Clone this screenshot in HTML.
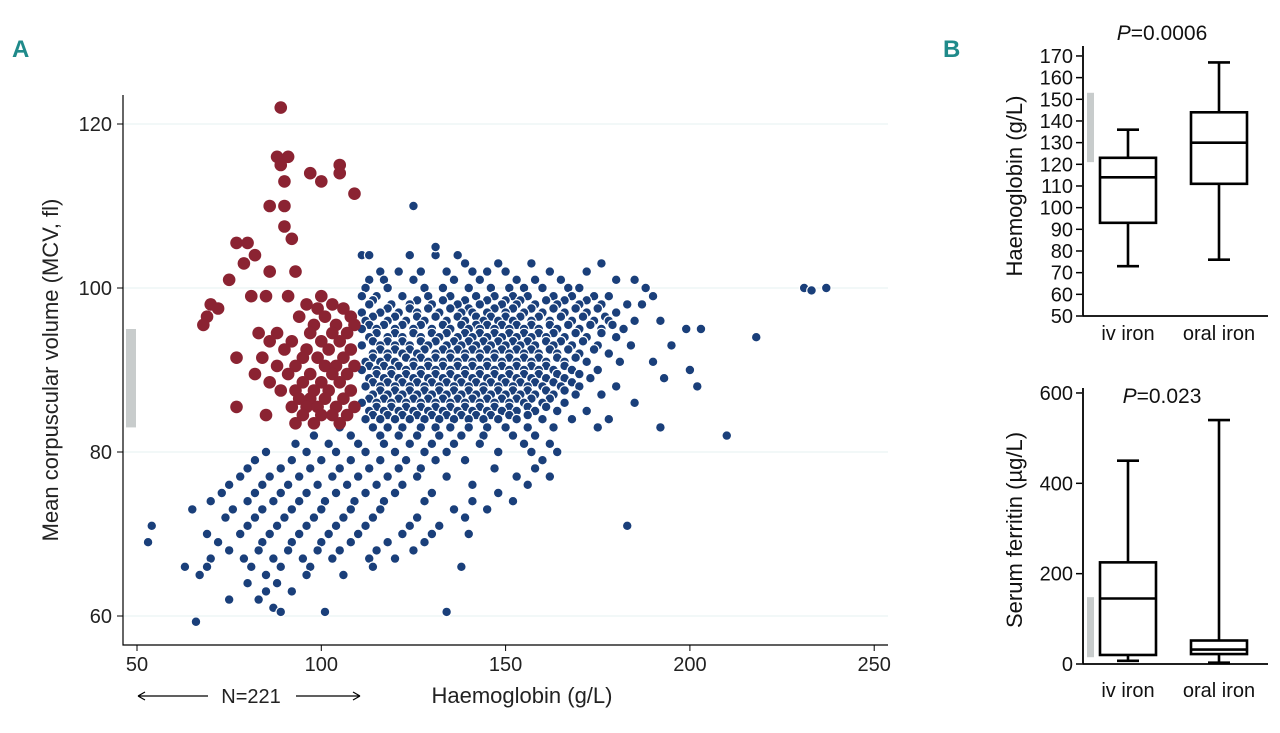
<!DOCTYPE html>
<html><head><meta charset="utf-8"><style>
body{margin:0;background:#fff;}
svg{display:block;font-family:"Liberation Sans",sans-serif;}
</style></head><body>
<svg id="chart" width="1280" height="733" viewBox="0 0 1280 733" xmlns="http://www.w3.org/2000/svg">
<g id="gA"></g>
<g id="gB"></g>
</svg>
<script>
const xTicksA=[50,100,150,200,250];
const yTicksA=[60,80,100,120];
const blueRows=[
[104,[111,113,124,131,137]],[103,[139,148,157,176]],
[102,[116,121,127,134,141,145,150,162,172]],
[101,[113,117,125,136,143,153,158,165,180,185]],
[100,[112,118,128,133,140,146,151,155,160,167,170,188,231,237]],
[99.7,[233]],[110,[125]],[105,[131]],
[99,[111,115,122,129,135,142,147,152,156,163,168,174,178,190]],
[98.5,[114,126,133,139,145,150,154,161,166,172]],
[98,[113,119,124,130,137,143,149,153,158,164,170,176,183,187]],
[97.5,[118,124,129,135,140,147,152,157,163,169,175]],
[97,[111,116,121,126,132,138,141,145,150,155,160,166,172,180]],
[96.5,[114,120,126,131,137,142,146,150,154,159,165,171,177]],
[96,[112,118,123,128,134,139,144,148,152,157,162,168,174,178,185,192]],
[95.5,[113,117,122,127,133,138,142,145,149,153,157,162,167,173,179]],
[95,[111,115,120,125,130,135,140,143,147,151,155,159,164,170,176,182,199,203]],
[94.5,[115,120,125,130,134,139,143,147,151,155,159,163,169,176]],
[94,[113,118,122,127,132,137,141,145,149,153,157,161,166,172,180,218]],
[93.5,[114,118,122,127,131,136,140,144,148,152,156,161,165,171]],
[93,[111,116,120,124,129,134,138,142,146,150,154,158,163,168,175,184,195]],
[92.5,[116,120,124,128,133,137,141,145,149,153,157,162,167,174]],
[92,[114,118,122,126,131,135,139,143,147,151,155,159,164,170,178]],
[91.5,[114,118,123,127,131,135,139,143,147,151,155,159,164,169]],
[91,[112,116,120,125,129,133,137,141,145,149,153,157,161,166,172,181,190]],
[90.5,[113,117,121,125,129,133,137,141,145,149,153,157,161,166]],
[90,[111,115,119,123,127,131,135,139,143,147,151,155,159,163,168,175,200]],
[89.5,[115,119,123,127,131,135,139,143,147,151,155,159,164,170]],
[89,[113,117,121,125,129,133,137,141,145,149,153,157,161,166,173,193]],
[88.5,[114,118,122,126,130,134,138,142,146,150,154,158,163,168]],
[88,[112,116,120,124,128,132,136,140,144,148,152,156,160,165,170,180,202]],
[87.5,[116,120,124,128,132,136,140,144,148,152,156,161,166]],
[87,[114,118,122,126,130,134,138,142,146,150,154,158,163,169,176]],
[86.5,[113,117,121,125,129,133,137,141,145,149,153,157,162]],
[86,[111,115,119,123,127,131,135,139,143,147,151,155,160,166,185]],
[85.5,[115,119,123,127,131,135,139,143,147,151,156,161]],
[85,[113,117,121,125,129,133,137,141,145,149,153,158,164,172]],
[84.5,[114,118,122,126,130,134,138,142,146,151,156]],
[84,[112,116,120,124,128,132,136,140,144,148,153,160,168,178]],
[83,[105,114,118,122,127,131,135,140,145,150,156,163,175,192]],
[82,[98,108,116,121,126,132,138,144,152,158,210]],
[81,[93,102,110,117,124,130,136,143,155,162]],
[80,[85,96,104,112,120,128,134,148,157,164]],
[79,[82,92,100,108,116,123,131,139,160]],
[78,[80,89,97,105,113,121,127,147,158]],
[77,[78,86,94,103,110,118,126,134,153,162]],
[76,[75,84,91,99,107,115,122,141,156]],
[75,[73,82,89,96,104,112,120,130,148]],
[74,[70,80,87,94,101,109,117,128,141,152]],
[73,[65,76,84,92,100,108,116,136,145]],
[72,[74,82,90,98,106,114,126,139]],
[71,[54,80,88,96,104,112,124,132,183]],
[70,[69,78,86,94,102,110,122,130,140]],
[69,[53,72,84,92,100,108,118,128]],
[68,[75,83,91,99,105,115,125]],
[67,[70,79,87,95,103,113,120]],
[66,[63,69,81,89,97,114,138]],
[65,[67,85,96,106]],[64,[80,88]],[63,[85,92]],[62,[75,83]],[61,[87]],
[60.5,[89,101,134]],[59.3,[66]]
];
const redRows=[
[122,[89]],[116,[88,91]],[115,[89,105]],[114,[97,105]],[113,[90,100]],[111.5,[109]],
[110,[86,90]],[107.5,[90]],[106,[92]],[105.5,[77,80]],[104,[82]],[103,[79]],[102,[86,93]],[101,[75]],
[99,[81,85,91,100]],[98,[70,96,103]],[97.5,[72,99,106]],[96.5,[69,94,101,108]],[95.5,[68,98,104,109]],
[94.5,[83,88,97,103,107]],[93.5,[86,92,100,105]],[92.5,[90,96,102,108]],[91.5,[77,84,95,99,106]],
[90.5,[88,93,101,104,109]],[89.5,[82,91,97,103,107]],[88.5,[86,95,100,105]],[87.5,[89,93,98,102,108]],
[86.5,[94,97,101,106]],[85.5,[77,92,96,99,104,109]],[84.5,[85,95,100,103,107]],[83.5,[93,98,105]]
];
const hbCats=["iv iron","oral iron"];
const hbBox=[[73,93,114,123,136],[76,111,130,144,167]];
const hbTicks=[50,60,70,80,90,100,110,120,130,140,150,160,170];
const ferBox=[[7,20,145,225,450],[3,22,32,52,540]];
const ferTicks=[0,200,400,600];

const NS="http://www.w3.org/2000/svg";
function mk(p,t,a,txt){const e=document.createElementNS(NS,t);for(const k in a)e.setAttribute(k,a[k]);if(txt!==undefined)e.textContent=txt;p.appendChild(e);return e;}
const gA=document.getElementById('gA'),gB=document.getElementById('gB');
const xA=v=>137+(v-50)*3.686, yA=v=>124+(120-v)*8.2;

let t=mk(gA,'text',{x:12,y:57,fill:'#1f8a8a','font-size':24,'font-weight':'bold'},'A');

yTicksA.forEach(v=>{
 let l=mk(gA,'line',{x1:123,x2:888,y1:yA(v),y2:yA(v),stroke:'#e6f0f0','stroke-width':1});
 
 let k=mk(gA,'line',{x1:117,x2:123,y1:yA(v),y2:yA(v),stroke:'#000'});
 
 let s=mk(gA,'text',{x:112,y:yA(v)+7,'text-anchor':'end','font-size':20,fill:'#222'},v);
 
});
xTicksA.forEach(v=>{
 let k=mk(gA,'line',{x1:xA(v),x2:xA(v),y1:645,y2:651,stroke:'#000'});
 
 let s=mk(gA,'text',{x:xA(v),y:671,'text-anchor':'middle','font-size':20,fill:'#222'},v);
 
});
let ax=mk(gA,'path',{d:'M123 95V645H888',fill:'none',stroke:'#000','stroke-width':1.2});

let gb=mk(gA,'rect',{x:126,y:yA(95),width:10,height:yA(83)-yA(95),fill:'#c8cccc'});

blueRows.forEach(r=>r[1].forEach(h=>{
 let c=mk(gA,'circle',{cx:xA(h),cy:yA(r[0]),r:4.8,fill:'#1a3f7a',stroke:'#fff','stroke-width':1.2});
 
}));
redRows.forEach(r=>r[1].forEach(h=>{
 let c=mk(gA,'circle',{cx:xA(h),cy:yA(r[0]),r:6.3,fill:'#8b2332'});
 
}));
t=mk(gA,'text',{x:58,y:370,'text-anchor':'middle','font-size':22,fill:'#222',transform:'rotate(-90 58 370)'},'Mean corpuscular volume (MCV, fl)');

t=mk(gA,'text',{x:522,y:703,'text-anchor':'middle','font-size':22,fill:'#222'},'Haemoglobin (g/L)');

t=mk(gA,'text',{x:251,y:703,'text-anchor':'middle','font-size':20,fill:'#222'},'N=221');

t=mk(gA,'path',{d:'M138 696H208M138 696l7-4M138 696l7 4M296 696H360M360 696l-7-4M360 696l-7 4',stroke:'#000','stroke-width':1.2,fill:'none'});


t=mk(gB,'text',{x:943,y:57,fill:'#1f8a8a','font-size':24,'font-weight':'bold'},'B');

const catX=[1128,1219];
function boxPlot(name,box,ticks,ymap,axisY,yTop,title,titleY,yTitle,labY,bar){
 const g=mk(gB,'g',{});
 ticks.forEach(v=>{
  let k=mk(g,'line',{x1:1076,x2:1082,y1:ymap(v),y2:ymap(v),stroke:'#000','stroke-width':1.5});
  
  let s=mk(g,'text',{x:1073,y:ymap(v)+7,'text-anchor':'end','font-size':20,fill:'#111'},v);
  
 });
 let a=mk(g,'path',{d:`M1083 ${yTop}V${axisY}H1268`,fill:'none',stroke:'#000','stroke-width':1.8});
 
 let gr=mk(g,'rect',{x:1087,y:ymap(bar[1]),width:7,height:ymap(bar[0])-ymap(bar[1]),fill:'#c8cccc'});
 
 box.forEach((b,i)=>{
  const cx=catX[i],w=28;
  let p=mk(g,'path',{d:`M${cx} ${ymap(b[0])}V${ymap(b[1])}M${cx} ${ymap(b[3])}V${ymap(b[4])}M${cx-11} ${ymap(b[0])}H${cx+11}M${cx-11} ${ymap(b[4])}H${cx+11}M${cx-w} ${ymap(b[2])}H${cx+w}`,stroke:'#000','stroke-width':2.6,fill:'none'});
  
  let r=mk(g,'rect',{x:cx-w,y:ymap(b[3]),width:2*w,height:ymap(b[1])-ymap(b[3]),fill:'none',stroke:'#000','stroke-width':2.6});
  
  let s=mk(g,'text',{x:cx,y:labY,'text-anchor':'middle','font-size':20,fill:'#111'},hbCats[i]);
  
 });
 let tt=mk(g,'text',{x:1162,y:titleY,'text-anchor':'middle','font-size':21,fill:'#111'});
 
 mk(tt,'tspan',{'font-style':'italic'},'P');mk(tt,'tspan',{},title);
 let yt=mk(g,'text',{x:1022,y:yTitle,'text-anchor':'middle','font-size':22,fill:'#111',transform:`rotate(-90 1022 ${yTitle})`},name==='haemoglobin-boxplot'?'Haemoglobin (g/L)':'Serum ferritin (µg/L)');
 
}
boxPlot('haemoglobin-boxplot',hbBox,hbTicks,v=>316-(v-50)*2.167,316,46,'=0.0006',40,186,340,[121,153]);
boxPlot('ferritin-boxplot',ferBox,ferTicks,v=>664-v*0.4517,664,388,'=0.023',403,530,697,[15,148]);
</script>
</body></html>
